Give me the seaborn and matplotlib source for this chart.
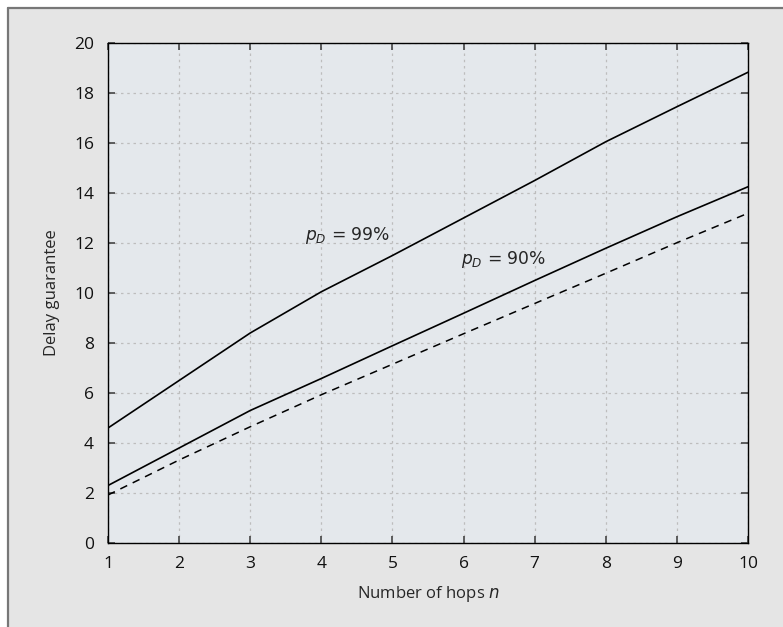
import matplotlib
matplotlib.use("Agg")
import matplotlib.pyplot as plt
import seaborn as sns
import pandas as pd
from matplotlib.patches import Rectangle
from matplotlib.lines import Line2D

# values
hops = [1, 2, 3, 4, 5, 6, 7, 8, 9, 10]
delay_99 = [4.6, 6.5, 8.4, 10.05, 11.5, 13.0, 14.5, 16.05, 17.45, 18.83]
delay_90 = [2.3, 3.8, 5.3, 6.58, 7.89, 9.19, 10.5, 11.79, 13.05, 14.25]
delay_bound = [1.92, 3.32, 4.65, 5.93, 7.15, 8.37, 9.58, 10.79, 12.01, 13.19]
x_ticks = [1, 2, 3, 4, 5, 6, 7, 8, 9, 10]
y_ticks = [0, 2, 4, 6, 8, 10, 12, 14, 16, 18, 20]

sns.set_theme(style="ticks")
plt.rcParams["font.family"] = ["Open Sans", "DejaVu Sans"]

W, H = 783, 627
fig = plt.figure(figsize=(W / 100, H / 100), dpi=100)
fig.patch.set_facecolor("white")

# grey panel with a frame on top and left only
fig.patches.append(Rectangle((8 / W, 0), 1, 1 - 8 / H, transform=fig.transFigure,
                             facecolor="#e5e5e5", edgecolor="none", zorder=-2))
fig.lines.append(Line2D([8 / W, 1], [1 - 8 / H, 1 - 8 / H], transform=fig.transFigure,
                        color="#777777", linewidth=1.6))
fig.lines.append(Line2D([8 / W, 8 / W], [0, 1 - 8 / H], transform=fig.transFigure,
                        color="#777777", linewidth=1.6))

ax = fig.add_axes([108 / W, 1 - 543 / H, 640 / W, 500 / H])
ax.set_facecolor("#e4e8ec")

df = pd.DataFrame({"n": hops, "p99": delay_99, "p90": delay_90, "bound": delay_bound})
sns.lineplot(data=df, x="n", y="p99", ax=ax, color="black", linewidth=1.2)
sns.lineplot(data=df, x="n", y="p90", ax=ax, color="black", linewidth=1.2)
sns.lineplot(data=df, x="n", y="bound", ax=ax, color="black", linewidth=1.1,
             linestyle=(0, (5, 4)))

ax.set_xlim(1, 10)
ax.set_ylim(0, 20)
ax.set_xticks(x_ticks)
ax.set_yticks(y_ticks)
ax.grid(True, color="#bdbdbd", linestyle=(0, (2, 3)), linewidth=0.9)
ax.tick_params(direction="in", length=5, width=1.2, color="#444444",
               top=True, right=True, labelsize=12.5, labelcolor="#111111")
ax.tick_params(axis="y", pad=10)
ax.tick_params(axis="x", pad=9)
for s in ax.spines.values():
    s.set_color("black")
    s.set_linewidth(1.0)

ax.set_xlabel("Number of hops $n$", fontsize=12, labelpad=9)
ax.set_ylabel("Delay guarantee", fontsize=12, labelpad=10)

ax.text(3.77, 12.3, "$p_D$ = 99%", fontsize=12.3, va="center", family="DejaVu Sans")
ax.text(5.97, 11.35, "$p_D$ = 90%", fontsize=12.3, va="center", family="DejaVu Sans")

fig.savefig("out.png", dpi=100)
